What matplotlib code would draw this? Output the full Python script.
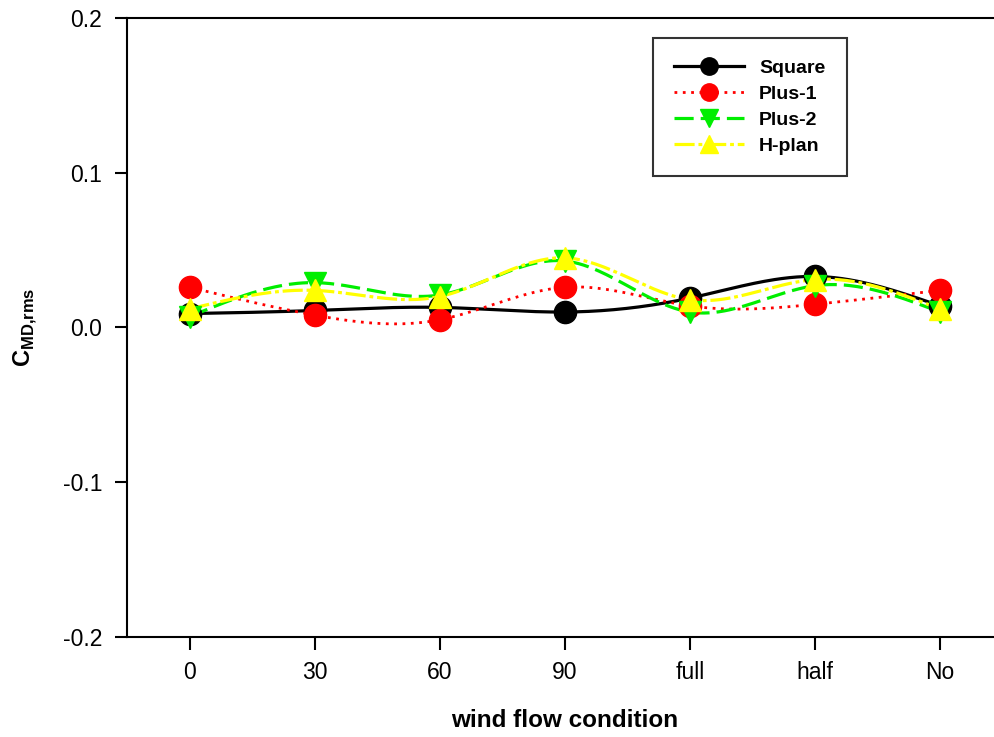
import numpy as np
import matplotlib
matplotlib.use("Agg")
import matplotlib.pyplot as plt

plt.rcParams['font.family'] = ['Liberation Sans', 'DejaVu Sans']
plt.rcParams['mathtext.fontset'] = 'custom'
plt.rcParams['mathtext.rm'] = 'Liberation Sans'
plt.rcParams['mathtext.bf'] = 'Liberation Sans:bold'

categories = ["0", "30", "60", "90", "full", "half", "No"]
square = [0.009, 0.011, 0.013, 0.010, 0.019, 0.033, 0.014]
plus1 = [0.026, 0.008, 0.005, 0.026, 0.014, 0.015, 0.024]
plus2 = [0.007, 0.029, 0.021, 0.043, 0.010, 0.027, 0.010]
hplan = [0.012, 0.024, 0.020, 0.045, 0.018, 0.031, 0.012]
yticks = [-0.2, -0.1, 0.0, 0.1, 0.2]


def natural_spline(x, y, n=300):
    """Smooth natural cubic spline through the given points."""
    x = np.asarray(x, float)
    y = np.asarray(y, float)
    k = len(x)
    h = np.diff(x)
    A = np.zeros((k, k))
    b = np.zeros(k)
    A[0, 0] = A[-1, -1] = 1.0
    for i in range(1, k - 1):
        A[i, i - 1] = h[i - 1]
        A[i, i] = 2 * (h[i - 1] + h[i])
        A[i, i + 1] = h[i]
        b[i] = 3 * ((y[i + 1] - y[i]) / h[i] - (y[i] - y[i - 1]) / h[i - 1])
    c = np.linalg.solve(A, b)
    xs = np.linspace(x[0], x[-1], n)
    idx = np.clip(np.searchsorted(x, xs) - 1, 0, k - 2)
    dx = xs - x[idx]
    bb = (y[1:] - y[:-1]) / h - h * (2 * c[:-1] + c[1:]) / 3
    d = (c[1:] - c[:-1]) / (3 * h)
    ys = y[idx] + bb[idx] * dx + c[idx] * dx ** 2 + d[idx] * dx ** 3
    return xs, ys


fig = plt.figure(figsize=(9.94, 7.37), dpi=100)
W, H = 994, 737
left, right, top, bottom = 127, 1002.5, 18, 637
ax = fig.add_axes([left / W, 1 - bottom / H, (right - left) / W, (bottom - top) / H])

x = np.arange(len(categories))
series = [
    ("Square", square, 'black', '-', 'o', 2.3),
    ("Plus-1", plus1, '#ff0000', (0, (1, 2)), 'o', 2.0),
    ("Plus-2", plus2, '#00ee00', (0, (6, 2.2)), 'v', 2.3),
    ("H-plan", hplan, '#ffff00', (0, (6.3, 1.2, 1.2, 1.2)), '^', 2.3),
]
for name, vals, col, ls, mk, w in series:
    xs, ys = natural_spline(x, vals)
    ax.plot(xs, ys, color=col, linestyle=ls, linewidth=w, zorder=2)
    ax.plot(x, vals, linestyle='none', marker=mk, markersize=16,
            color=col, markeredgecolor=col, zorder=3)

# legend proxies
handles = []
for name, vals, col, ls, mk, w in series:
    h, = ax.plot([], [], color=col, linestyle=ls, linewidth=w, marker=mk,
                 markersize=12.5, label=name)
    handles.append(h)
leg = ax.legend(handles=handles, loc='upper left',
                bbox_to_anchor=((653 - left) / (right - left), (bottom - 38) / (bottom - top)),
                prop={'weight': 'bold', 'size': 14}, frameon=True, fancybox=False,
                edgecolor='black', handlelength=3.6, handletextpad=0.75,
                borderpad=1.1, labelspacing=0.43, borderaxespad=0)
leg.get_frame().set_linewidth(1.5)

ax.set_xlim(-0.5, 6.5)
ax.set_ylim(-0.2, 0.2)
ax.set_xticks(x)
ax.set_xticklabels(categories)
ax.set_yticks(yticks)
ax.set_yticklabels([f"{v:.1f}" for v in yticks])
ax.tick_params(axis='both', labelsize=16.5, width=1.5, direction='out')
ax.tick_params(axis='y', length=9, pad=9)
ax.tick_params(axis='x', length=9, pad=8.5)
for s in ax.spines.values():
    s.set_linewidth(1.5)

ax.set_xlabel("wind flow condition", fontsize=17.5, fontweight='bold', labelpad=18)
ax.set_ylabel(r"$\mathbf{C}_{\mathbf{MD{,}rms}}$", fontsize=17, labelpad=17)

fig.savefig("out.png", dpi=100)
